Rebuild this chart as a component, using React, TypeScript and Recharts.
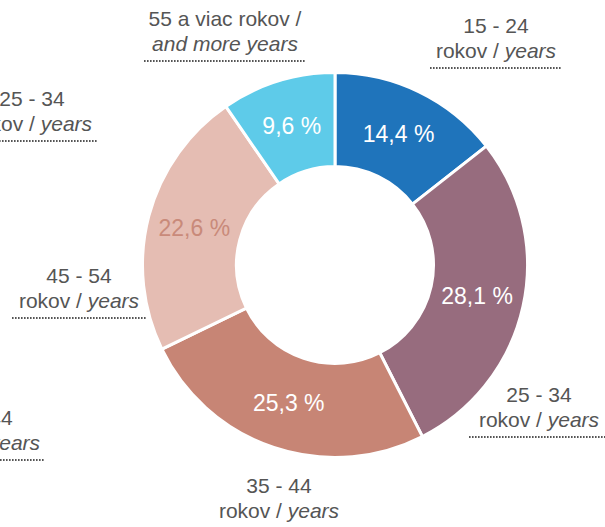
import React from 'react';
import { PieChart, Pie, Cell } from 'recharts';

// age groups, share of respondents in %
const CATEGORIES = ['15 - 24', '25 - 34', '35 - 44', '45 - 54', '55 a viac rokov /'];
const VALUES = [14.4, 28.1, 25.3, 22.6, 9.6];
const COLORS = ['#1f74bb', '#976c7e', '#c78575', '#e5bdb3', '#5ecbe9'];
const INNER_TEXT = ['#ffffff', '#ffffff', '#ffffff', '#c98a7a', '#ffffff'];

// outer label anchors: [category index, center x, first baseline y, dotted line half width]
const OUTER_LABELS: [number, number, number, number][] = [
  [0, 496, 33, 66],
  [1, 539, 402, 70],
  [1, 32, 106, 66],
  [2, 279, 493, 68],
  [2, -20, 425, 64],
  [3, 79, 283, 67],
  [4, 225, 26, 81],
];

const data = CATEGORIES.map((name, i) => ({ name, value: VALUES[i] }));

const FONT = "Arial, 'Liberation Sans', sans-serif";
const TEXT_GREY = '#555555';
const RAD = Math.PI / 180;

const fmt = (v: number) => v.toFixed(1).replace('.', ',') + ' %';

const renderLabel = (props: any) => {
  const { cx, cy, midAngle, innerRadius, outerRadius, index, value } = props;
  const r = (innerRadius + outerRadius) / 2;
  const x = cx + r * Math.cos(-midAngle * RAD);
  const y = cy + r * Math.sin(-midAngle * RAD);

  return (
    <g key={`lbl-${index}`}>
      <text
        x={x}
        y={y}
        textAnchor="middle"
        dominantBaseline="central"
        fill={INNER_TEXT[index]}
        fontSize={23}
        fontFamily={FONT}
      >
        {fmt(value)}
      </text>
      {OUTER_LABELS.filter((l) => l[0] === index).map(([ci, lx, ly, hw], k) => (
        <g key={k}>
          <text x={lx} y={ly} textAnchor="middle" fill={TEXT_GREY} fontSize={21} fontFamily={FONT}>
            {CATEGORIES[ci]}
          </text>
          <text x={lx} y={ly + 25} textAnchor="middle" fill={TEXT_GREY} fontSize={21} fontFamily={FONT}>
            {ci === 4 ? (
              <tspan fontStyle="italic">and more years</tspan>
            ) : (
              <>
                <tspan>rokov / </tspan>
                <tspan fontStyle="italic">years</tspan>
              </>
            )}
          </text>
          <line
            x1={lx - hw}
            x2={lx + hw}
            y1={ly + 35}
            y2={ly + 35}
            stroke="#555"
            strokeWidth={2}
            strokeDasharray="1.6 1.4"
          />
        </g>
      ))}
    </g>
  );
};

export default function App() {
  return (
    <div style={{ position: 'absolute', left: 0, top: 0, width: 605, height: 527, background: '#fff' }}>
      <PieChart width={605} height={527} margin={{ top: 0, right: 0, bottom: 0, left: 0 }}>
        <Pie
          data={data}
          dataKey="value"
          nameKey="name"
          cx={335}
          cy={265}
          innerRadius={98.5}
          outerRadius={192.5}
          startAngle={90}
          endAngle={-270}
          stroke="#ffffff"
          strokeWidth={3}
          labelLine={false}
          label={renderLabel}
          isAnimationActive={false}
        >
          {data.map((d, i) => (
            <Cell key={d.name} fill={COLORS[i]} />
          ))}
        </Pie>
      </PieChart>
    </div>
  );
}
